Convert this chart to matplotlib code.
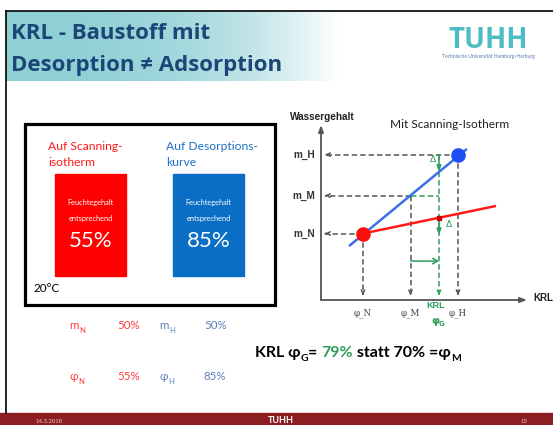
import numpy as np
import matplotlib
matplotlib.use("Agg")
import matplotlib.pyplot as plt
from matplotlib.patches import Rectangle

# ---------------- data ----------------
title_lines = ["KRL - Baustoff mit", "Desorption \u2260 Adsorption"]
box_headers = ["Auf Scanning-\nisotherm", "Auf Desorptions-\nkurve"]
box_inner = "Feuchtegehalt\nentsprechend"
box_values = ["55%", "85%"]
temperature = "20°C"
table_rows = [
    [("m", "N", "50%"), ("m", "H", "50%")],
    [("\u03c6", "N", "55%"), ("\u03c6", "H", "85%")],
]
phi_N, phi_M, phi_G, phi_H = 55, 70, 79, 85          # rel. humidity (%)
m_N, m_M, m_H = 0.35, 0.55, 0.765                     # water content (schematic)
desorp_phi = [50.6, 87.8]                             # blue (desorption) line
desorp_m = [0.284, 0.795]
scan_phi = [55, 97]                                   # red (scanning isotherm) line
scan_m = [0.35, 0.495]
y_labels = ["m_N", "m_M", "m_H"]
x_labels = ["\u03c6_N", "\u03c6_M", "\u03c6_H"]

# ---------------- colours ----------------
TITLE_C = "#1b4677"
TEAL = np.array([0x8f, 0xd0, 0xd5]) / 255
LOGO_C = "#4dbcc3"
RED = "#ff1a1a"
BLUE = "#3b6fe8"
GREEN = "#2f9e5c"
GRAY = "#555555"
TAB_RED = "#ff3b3b"
TAB_BLUE = "#5b80b8"

plt.rcParams['font.family'] = ['Lato', 'DejaVu Sans']

W, H = 553, 425
fig = plt.figure(figsize=(W / 100, H / 100), dpi=100)
bg = fig.add_axes([0, 0, 1, 1])
bg.set_xlim(0, W)
bg.set_ylim(H, 0)
bg.axis("off")

# title band gradient
xs = np.linspace(0, 1, 400)
f = xs ** 2.6
grad = (TEAL[None, :] * (1 - f[:, None]) + f[:, None])[None, :, :]
bg.imshow(grad, extent=[6, 338, 81, 11], aspect="auto", zorder=0)

# slide frame lines
bg.plot([5.5, W], [10.5, 10.5], color="black", lw=1.2, zorder=3)
bg.plot([5.5, 5.5], [10.5, 413], color="black", lw=1.2, zorder=3)

# title
TF = ["Open Sans", "DejaVu Sans"]
bg.text(11, 38.5, title_lines[0], fontsize=16, fontweight="bold", color=TITLE_C, va="baseline", family=TF)
bg.text(11, 70.5, title_lines[1], fontsize=16, fontweight="bold", color=TITLE_C, va="baseline", family=TF)

# logo
bg.text(488, 48, "TUHH", fontsize=20, fontweight="bold", color=LOGO_C, ha="center", va="baseline",
        family=TF)
bg.text(488, 56, "Technische Universität Hamburg-Harburg", fontsize=3.6, color="#5577aa",
        ha="center", va="center")

# left framed box
bg.add_patch(Rectangle((24.5, 124), 250, 181, fill=False, ec="black", lw=2.3, zorder=3))
bg.text(48, 150, box_headers[0].split("\n")[0], fontsize=8.7, color="#ff1a1a", va="baseline")
bg.text(48, 166, box_headers[0].split("\n")[1], fontsize=8.7, color="#ff1a1a", va="baseline")
bg.text(166, 150, box_headers[1].split("\n")[0], fontsize=8.7, color="#1f72c4", va="baseline")
bg.text(166, 166, box_headers[1].split("\n")[1], fontsize=8.7, color="#1f72c4", va="baseline")
for x0, col, val in [(55, "#ff0000", box_values[0]), (173, "#0a6fc4", box_values[1])]:
    bg.add_patch(Rectangle((x0, 174), 71, 102, color=col, zorder=2))
    cx = x0 + 35.5
    for k, line in enumerate(box_inner.split("\n")):
        bg.text(cx, 202 + 16 * k, line, fontsize=5.3, color="white", ha="center", va="center", zorder=4)
    bg.text(cx, 241, val, fontsize=16, color="white", ha="center", va="center", zorder=4)
bg.text(34, 288, temperature, fontsize=8.5, color="black", va="center")


def sub_label(x, y, main, sub, color, size=8.3, subsize=5.5, weight="normal"):
    t = bg.text(x, y, main, fontsize=size, color=color, va="baseline", fontweight=weight)
    bg.annotate(sub, xy=(1, 0), xycoords=t, xytext=(0.3, -2.2), textcoords="offset points",
                fontsize=subsize, color=color, va="bottom", ha="left", fontweight=weight)
    return t


# bottom table
row_y = [329, 380]
for r, row in enumerate(table_rows):
    for c, (sym, sub, val) in enumerate(row):
        col = TAB_RED if c == 0 else TAB_BLUE
        xs0 = 69 if c == 0 else 159
        xv = 117 if c == 0 else 204
        sub_label(xs0, row_y[r], sym, sub, col)
        bg.text(xv, row_y[r], val, fontsize=8.3, color=col, va="baseline")

# KRL phi_G statement
pieces = [("KRL \u03c6", "black", 11.5), ("G", "black", 7.5), ("= ", "black", 11.5),
          ("79%", GREEN, 11.5), (" statt 70% =\u03c6", "black", 11.5), ("M", "black", 7.5)]
prev = None
for txt, col, sz in pieces:
    if prev is None:
        prev = bg.text(255, 357, txt, fontsize=sz, color=col, fontweight="bold", va="baseline")
    else:
        dy = -2.5 if sz < 10 else (2.5 if prev.get_fontsize() < 10 else 0)
        prev = bg.annotate(txt, xy=(1, 0), xycoords=prev, xytext=(0, dy), textcoords="offset points",
                           fontsize=sz, color=col, fontweight="bold", va="bottom", ha="left")

# footer
bg.add_patch(Rectangle((0, 413), W, 12, color="#8c1d23", zorder=2))
bg.text(36, 421.5, "14.3.2018", fontsize=4.3, color="#e8c8c8", va="center", zorder=3)
bg.text(281, 420.5, "TUHH", fontsize=6.5, fontweight="bold", color="white", ha="center", va="center", zorder=3)
bg.text(521, 421.5, "15", fontsize=4.3, color="#e8c8c8", va="center", zorder=3)

# ---------------- diagram ----------------
px_per_phi = 95 / (phi_H - phi_N)
x_min = phi_N - (363 - 321) / px_per_phi
x_max = phi_N + (527 - 363) / px_per_phi
y_max = 175 / 190
ax = fig.add_axes([321 / W, (H - 300) / H, 206 / W, 175 / H])
ax.set_xlim(x_min, x_max)
ax.set_ylim(0, y_max)
ax.axis("off")

# axes arrows
for xy, xyt in [((x_min, y_max), (x_min, 0)), ((x_max, 0), (x_min, 0))]:
    ax.annotate("", xy=xy, xytext=xyt,
                arrowprops=dict(arrowstyle="-|>,head_length=0.4,head_width=0.15", color=GRAY, lw=1.3,
                                shrinkA=0, shrinkB=0), annotation_clip=False)

dash = (0, (3.5, 2.0))
y_arrow_end = 0.025
x_arrow_end = x_min + 4 / px_per_phi


def dashed_arrow(x0, y0, x1, y1, color, lw=1.1, head=True):
    ax.plot([x0, x1], [y0, y1], ls=dash, color=color, lw=lw, clip_on=False, dash_capstyle="butt")
    if head:
        dx, dy = x1 - x0, y1 - y0
        ax.annotate("", xy=(x1, y1), xytext=(x1 - dx * 0.02, y1 - dy * 0.02),
                    arrowprops=dict(arrowstyle="->,head_length=0.25,head_width=0.12", color=color, lw=lw,
                                    shrinkA=0, shrinkB=0), annotation_clip=False)


# horizontal dashed lines to y-axis
dashed_arrow(phi_H, m_H, x_arrow_end, m_H, GRAY)
dashed_arrow(phi_M, m_M, x_arrow_end, m_M, GRAY)
dashed_arrow(phi_N, m_N, x_arrow_end, m_N, GRAY)
# vertical dashed lines to x-axis
dashed_arrow(phi_H, m_H, phi_H, y_arrow_end, GRAY)
dashed_arrow(phi_M, m_M, phi_M, y_arrow_end, GRAY)
dashed_arrow(phi_N, m_N, phi_N, y_arrow_end, GRAY)
# green construction
dashed_arrow(phi_G, m_H, phi_G, y_arrow_end, GREEN)
dashed_arrow(phi_M, m_M, phi_G, m_M, GREEN, head=False)

# curves
ax.plot(desorp_phi, desorp_m, color=BLUE, lw=1.8, solid_capstyle="butt", clip_on=False, zorder=4)
ax.plot(scan_phi, scan_m, color=RED, lw=1.8, solid_capstyle="butt", clip_on=False, zorder=4)
ax.plot([phi_N], [m_N], "o", color="#ff0d0d", ms=9.5, zorder=5, clip_on=False)
ax.plot([phi_H], [m_H], "o", color="#1f4ff5", ms=9.5, zorder=5, clip_on=False)

# delta arrows
m_blue_G = np.interp(phi_G, desorp_phi, desorp_m)
m_red_G = np.interp(phi_G, scan_phi, scan_m)
delta = m_H - m_blue_G
green_arrow = dict(arrowstyle="-|>,head_length=0.35,head_width=0.13", color=GREEN, lw=1.1,
                   shrinkA=0, shrinkB=0)
ax.annotate("", xy=(phi_G, m_blue_G), xytext=(phi_G, m_H), arrowprops=green_arrow, annotation_clip=False)
ax.annotate("", xy=(phi_G, m_red_G - delta), xytext=(phi_G, m_red_G), arrowprops=green_arrow,
            annotation_clip=False)
ax.plot([phi_G], [m_red_G], marker="s", ms=2.5, color="#cc0000", zorder=6, clip_on=False)
ax.annotate("", xy=(phi_G, 0.205), xytext=(phi_M, 0.205),
            arrowprops=dict(arrowstyle="->,head_length=0.35,head_width=0.2", color=GREEN, lw=1.1,
                            shrinkA=0, shrinkB=0), annotation_clip=False)
ax.text(phi_G - 2.0, m_H - delta / 2 + 0.02, "\u0394", color=GREEN, fontsize=6.5, ha="center", va="center",
        family="DejaVu Sans")
ax.text(phi_G + 3.0, m_red_G - delta / 2 + 0.01, "\u0394", color=GREEN, fontsize=6.5, ha="center",
        va="center", family="DejaVu Sans")

# axis labels
LF = ["Liberation Sans", "DejaVu Sans"]
ylab_x = x_min - 17 / px_per_phi
for lab, yv in zip(y_labels, [m_N, m_M, m_H]):
    ax.text(ylab_x, yv, lab, fontsize=7.2, fontweight="bold", color="#333333", ha="center", va="center",
            family=LF)
for lab, xv in zip(x_labels, [phi_N, phi_M, phi_H]):
    ax.text(xv, -13.5 / 190, lab, fontsize=6.3, color="#444444", ha="center", va="center",
            family=["DejaVu Serif"])
ax.text(phi_G - 1.0, -6 / 190, "KRL", fontsize=6.5, fontweight="bold", color=GREEN, ha="center",
        va="center", family=LF)
ax.text(phi_G - 1.0, -21 / 190, "\u03c6", fontsize=7.5, fontweight="bold", color=GREEN, ha="center",
        va="center", family=["DejaVu Sans"])
ax.text(phi_G + 0.9, -24 / 190, "G", fontsize=5, fontweight="bold", color=GREEN, ha="center",
        va="center", family=["DejaVu Sans"])
ax.text(x_max + 6 / px_per_phi, 2 / 190, "KRL", fontsize=7, fontweight="bold", color="#222222",
        ha="left", va="center", family=LF)
ax.text(x_min - 31 / px_per_phi, y_max + 8 / 190, "Wassergehalt", fontsize=7.2, fontweight="bold",
        color="#222222", ha="left", va="center", family=LF)
ax.text(phi_N + 27 / px_per_phi, y_max + 1 / 190, "Mit Scanning-Isotherm", fontsize=8.6, color="#222222",
        ha="left", va="center")

fig.savefig("out.png", dpi=100)
